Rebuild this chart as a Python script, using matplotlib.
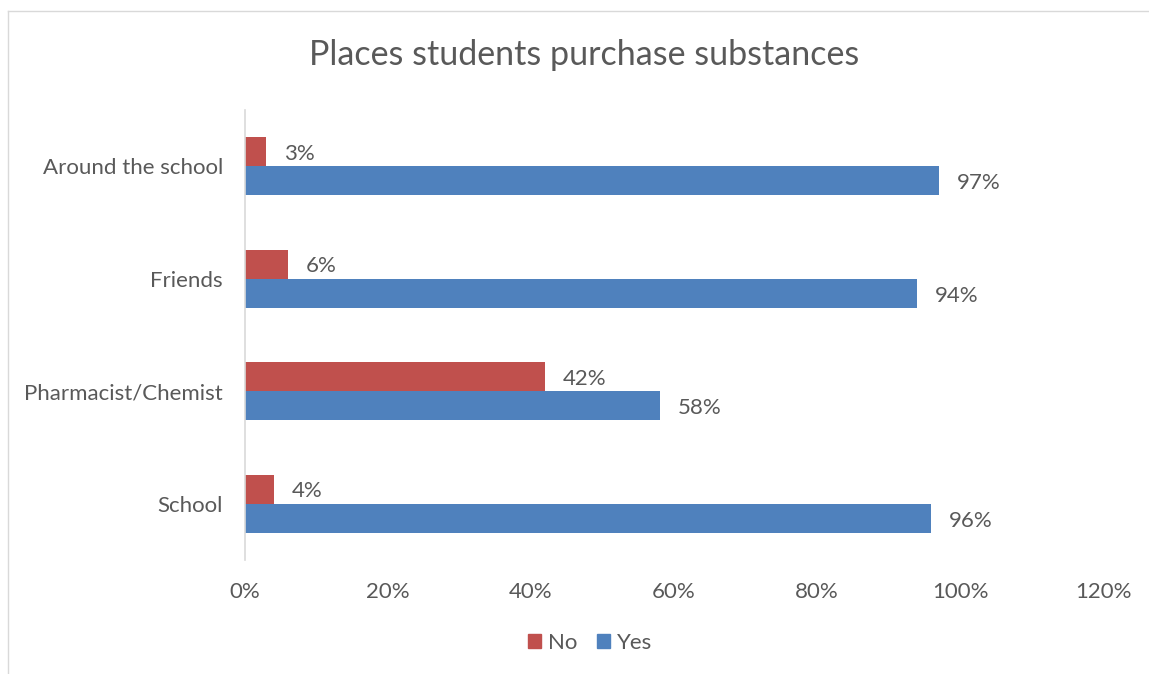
"""Horizontal bar chart: places students purchase substances."""

import matplotlib
matplotlib.use('Agg')
import matplotlib.pyplot as plt
from matplotlib.lines import Line2D
from matplotlib.patches import Patch

# Data
places = ['Around the school', 'Friends', 'Pharmacist/Chemist', 'School']
no_pct = [3, 6, 42, 4]
yes_pct = [97, 94, 58, 96]
x_ticks = [0, 20, 40, 60, 80, 100, 120]

RED = '#C0504D'
BLUE = '#4F81BD'
TEXT = '#595959'
FONT = ['Lato', 'DejaVu Sans']


def main():
    plt.rcParams['font.family'] = FONT
    fig = plt.figure(figsize=(11.49, 6.74), dpi=100)
    W, H = 1149.0, 674.0
    ax = fig.add_axes([245 / W, 1 - 560 / H, 858 / W, 450 / H])

    height = 0.258
    pos = list(range(len(places)))
    ax.barh([p - height / 2 for p in pos], no_pct, height=height,
            color=RED, label='No')
    ax.barh([p + height / 2 for p in pos], yes_pct, height=height,
            color=BLUE, label='Yes')

    # Value labels
    for p, n, y in zip(pos, no_pct, yes_pct):
        ax.text(n + 2.5, p - height / 2 + 0.02, f'{n}%', va='center',
                ha='left', fontsize=16, color=TEXT)
        ax.text(y + 2.5, p + height / 2 + 0.02, f'{y}%', va='center',
                ha='left', fontsize=16, color=TEXT)

    ax.set_xlim(0, 120)
    ax.set_ylim(len(places) - 0.5, -0.5)
    ax.set_xticks(x_ticks)
    ax.set_xticklabels([f'{t}%' for t in x_ticks])
    ax.set_yticks(pos)
    ax.set_yticklabels(places)
    ax.tick_params(length=0, labelsize=16, labelcolor=TEXT)
    ax.tick_params(axis='x', pad=16)
    ax.tick_params(axis='y', pad=16)
    for side in ('top', 'right', 'bottom'):
        ax.spines[side].set_visible(False)
    ax.spines['left'].set_color('#D9D9D9')
    ax.spines['left'].set_linewidth(1.2)

    fig.text(584 / W, 1 - 55 / H, 'Places students purchase substances',
             ha='center', va='center', fontsize=24.5, color=TEXT)

    handles = [Patch(color=RED, label='No'), Patch(color=BLUE, label='Yes')]
    fig.legend(handles=handles, loc='center', ncol=2,
               bbox_to_anchor=(590 / W, 1 - 643 / H), frameon=False,
               fontsize=16, labelcolor=TEXT, handlelength=0.6,
               handleheight=0.6, handletextpad=0.3, columnspacing=0.9)

    # Chart area border
    fig.add_artist(Line2D([8 / W, 8 / W], [0, 1 - 11 / H],
                          transform=fig.transFigure, color='#D9D9D9', lw=1))
    fig.add_artist(Line2D([8 / W, 1], [1 - 11 / H, 1 - 11 / H],
                          transform=fig.transFigure, color='#D9D9D9', lw=1))

    fig.savefig('out.png', dpi=100)
    plt.close(fig)


if __name__ == '__main__':
    main()
